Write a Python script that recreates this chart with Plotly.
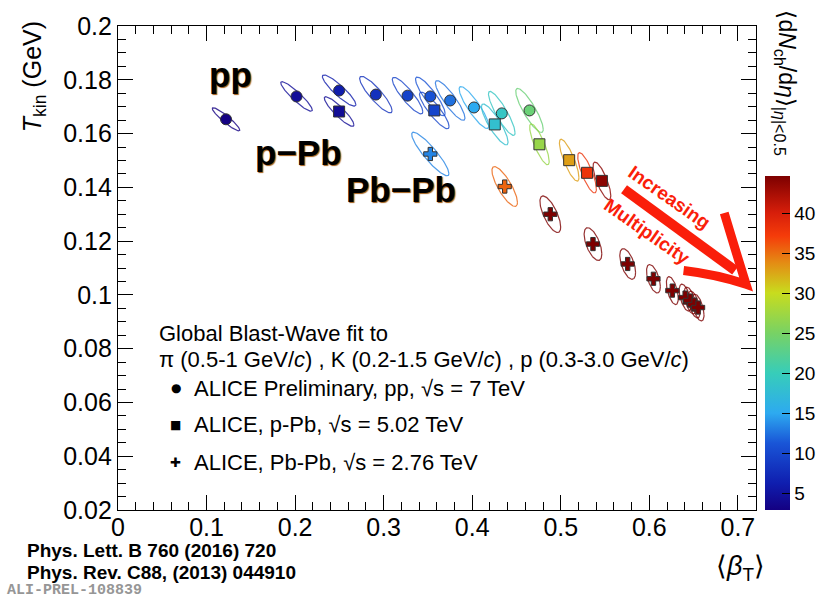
import numpy as np
import plotly.graph_objects as go
from plotly.colors import sample_colorscale

# ---------------- data ----------------
# pp 7 TeV (ALICE Preliminary) - circles
pp_beta = [0.122, 0.2016, 0.2497, 0.2912, 0.327, 0.3527, 0.3751, 0.402, 0.4334, 0.4647]
pp_T = [0.1653, 0.1738, 0.1760, 0.1745, 0.1741, 0.1738, 0.1723, 0.1697, 0.1675, 0.1686]
pp_mult = [3.0, 4.5, 6.0, 8.0, 9.5, 11.0, 12.5, 15.0, 19.0, 24.0]
pp_sbeta = [0.0155, 0.0178, 0.0189, 0.0183, 0.0172, 0.0167, 0.0167, 0.0167, 0.0150, 0.0155]
pp_sT = [0.0043, 0.0055, 0.0058, 0.0068, 0.0068, 0.0072, 0.0074, 0.0078, 0.0082, 0.0082]
pp_rho = [-0.93, -0.92, -0.9, -0.88, -0.88, -0.88, -0.88, -0.88, -0.88, -0.86]

# p-Pb 5.02 TeV - squares
ppb_beta = [0.2497, 0.3572, 0.4255, 0.4759, 0.5095, 0.5297, 0.5465]
ppb_T = [0.1682, 0.1686, 0.1634, 0.1560, 0.1501, 0.1454, 0.1424]
ppb_mult = [4.4, 9.8, 18.0, 27.0, 33.0, 38.0, 44.0]
ppb_sbeta = [0.0167, 0.0167, 0.0150, 0.0110, 0.0110, 0.0105, 0.0100]
ppb_sT = [0.0055, 0.0068, 0.0076, 0.0076, 0.0078, 0.0075, 0.0070]
ppb_rho = [-0.9, -0.88, -0.86, -0.83, -0.82, -0.8, -0.78]

# Pb-Pb 2.76 TeV - crosses
pbpb_beta = [0.3527, 0.4367, 0.4882, 0.5364, 0.5756, 0.6047, 0.626, 0.6405, 0.6461, 0.6506, 0.6551]
pbpb_T = [0.1524, 0.1403, 0.1300, 0.1189, 0.1115, 0.1060, 0.1016, 0.0990, 0.0979, 0.0964, 0.0953]
pbpb_mult = [13.4, 35.5, 76.0, 149.0, 261.0, 426.0, 649.0, 966.0, 1294.0, 1450.0, 1601.0]
pbpb_sbeta = [0.0210, 0.0144, 0.0117, 0.0100, 0.0089, 0.0078, 0.0067, 0.0067, 0.0067, 0.0067, 0.0067]
pbpb_sT = [0.0081, 0.0074, 0.0068, 0.0061, 0.0057, 0.0053, 0.0052, 0.0050, 0.0050, 0.0050, 0.0050]
pbpb_rho = [-0.9, -0.8, -0.7, -0.6, -0.55, -0.55, -0.55, -0.55, -0.55, -0.55, -0.55]

x_ticks = [0, 0.1, 0.2, 0.3, 0.4, 0.5, 0.6, 0.7]
y_ticks = [0.02, 0.04, 0.06, 0.08, 0.1, 0.12, 0.14, 0.16, 0.18, 0.2]
cbar_ticks = [5, 10, 15, 20, 25, 30, 35, 40]
CMIN, CMAX = 2.9, 44.7

# ---------------- styling ----------------
W, H = 836, 598
ML, MR, MT, MB = 118, 75, 21, 88
FONT = "Liberation Sans, Arial, Helvetica, sans-serif"

rainbow = [
    [0.00, "rgb(20,0,130)"],
    [0.08, "rgb(15,30,175)"],
    [0.20, "rgb(25,85,215)"],
    [0.29, "rgb(45,170,240)"],
    [0.41, "rgb(55,205,185)"],
    [0.53, "rgb(120,210,100)"],
    [0.65, "rgb(200,220,30)"],
    [0.74, "rgb(228,140,20)"],
    [0.82, "rgb(245,60,10)"],
    [0.89, "rgb(215,30,10)"],
    [1.00, "rgb(125,0,0)"],
]


def color_of(v):
    f = min(max((v - CMIN) / (CMAX - CMIN), 0.0), 1.0)
    return sample_colorscale(rainbow, [f])[0]


def px(xp):
    return (xp - ML) / (W - ML - MR)


def py(yp):
    return (H - MB - yp) / (H - MT - MB)


fig = go.Figure()

t = np.linspace(0, 2 * np.pi, 120)


def add_ellipses(bx, ty, sb, st, rh, mult):
    for x0, y0, sx, sy, r, m in zip(bx, ty, sb, st, rh, mult):
        ex = x0 + sx * np.cos(t)
        ey = y0 + sy * (r * np.cos(t) + np.sqrt(1 - r * r) * np.sin(t))
        fig.add_trace(go.Scatter(x=ex, y=ey, mode="lines",
                                 line=dict(color=color_of(m), width=1.2),
                                 opacity=0.8, hoverinfo="skip", showlegend=False))


add_ellipses(pp_beta, pp_T, pp_sbeta, pp_sT, pp_rho, pp_mult)
add_ellipses(ppb_beta, ppb_T, ppb_sbeta, ppb_sT, ppb_rho, ppb_mult)
add_ellipses(pbpb_beta, pbpb_T, pbpb_sbeta, pbpb_sT, pbpb_rho, pbpb_mult)

mline = dict(color="rgb(50,50,50)", width=1)
fig.add_trace(go.Scatter(x=pp_beta, y=pp_T, mode="markers", showlegend=False,
                         marker=dict(symbol="circle", size=11, color=pp_mult,
                                     coloraxis="coloraxis", line=mline)))
fig.add_trace(go.Scatter(x=ppb_beta, y=ppb_T, mode="markers", showlegend=False,
                         marker=dict(symbol="square", size=11, color=ppb_mult,
                                     coloraxis="coloraxis", line=mline)))
fig.add_trace(go.Scatter(x=pbpb_beta, y=pbpb_T, mode="markers", showlegend=False,
                         marker=dict(symbol="cross", size=11, color=pbpb_mult,
                                     coloraxis="coloraxis", line=mline)))

ann = []
big = dict(family=FONT, size=35, color="black", weight="bold",
           shadow="1px 1px 1px rgb(160,90,20)")
ann.append(dict(text="pp", x=px(231), y=py(70), font=big))
ann.append(dict(text="p\u2212Pb", x=px(300), y=py(149), font=big))
ann.append(dict(text="Pb\u2212Pb", x=px(403), y=py(186), font=big))

lf = dict(family=FONT, size=22, color="black")
ann.append(dict(text="Global Blast-Wave fit to", x=px(157), y=py(332),
                xanchor="left", font=lf))
ann.append(dict(text="\u03c0 (0.5-1 GeV/<i>c</i>) , K (0.2-1.5 GeV/<i>c</i>) , p (0.3-3.0 GeV/<i>c</i>)",
                x=px(157), y=py(358), xanchor="left", font=lf))
entries = [("\u25cf", "ALICE Preliminary, pp, \u221as = 7 TeV", 387, 12),
           ("\u25a0", "ALICE, p-Pb, \u221as = 5.02 TeV", 424, 12),
           ("\u271a", "ALICE, Pb-Pb, \u221as = 2.76 TeV", 462, 13)]
for sym, txt, yy, ss in entries:
    ann.append(dict(text=sym, x=px(176), y=py(yy), font=dict(family="DejaVu Sans", size=ss, color="black")))
    ann.append(dict(text=txt, x=px(193), y=py(yy), xanchor="left", font=lf))

# axis titles
ann.append(dict(text="<i>T</i><sub>kin</sub> (GeV)", x=px(33), y=py(14), xanchor="center",
                yanchor="top", textangle=-90, font=dict(family=FONT, size=25, color="black")))
ann.append(dict(text="\u27e8<i>\u03b2</i><sub>T</sub>\u27e9", x=px(745), y=py(569),
                font=dict(family=FONT, size=27, color="black")))
ann.append(dict(text="\u27e8d<i>N</i><sub>ch</sub>/d<i>\u03b7</i>\u27e9<sub>|<i>\u03b7</i>|&lt;0.5</sub>",
                x=px(791), y=py(3), xanchor="center", yanchor="top", textangle=90,
                font=dict(family=FONT, size=23, color="black")))

# references
rf = dict(family="Liberation Sans Narrow, Liberation Sans, Arial", size=19, color="black", weight="bold")
ann.append(dict(text="Phys. Lett. B 760 (2016) 720", x=px(24), y=py(551), xanchor="left", font=rf))
ann.append(dict(text="Phys. Rev. C88, (2013) 044910", x=px(24), y=py(573), xanchor="left", font=rf))
ann.append(dict(text="ALI-PREL-108839", x=px(4), y=py(591), xanchor="left",
                font=dict(family="Liberation Mono, DejaVu Sans Mono", size=15, color="rgb(150,150,150)", weight="bold")))

# arrow text
af = dict(family=FONT, size=19, color="rgb(250,30,10)", weight="bold")
ann.append(dict(text="Increasing", x=px(674), y=py(194), textangle=35, font=af))
ann.append(dict(text="Multiplicity", x=px(651), y=py(229), textangle=35, font=af))

for a in ann:
    a.setdefault("xref", "paper")
    a.setdefault("yref", "paper")
    a.setdefault("xanchor", "center")
    a.setdefault("yanchor", "middle")
    a.setdefault("showarrow", False)

red = "rgb(250,30,10)"
shapes = [
    dict(type="path", xref="paper", yref="paper",
         path=f"M {px(628)} {py(186)} L {px(740)} {py(268)}",
         line=dict(color=red, width=10)),
    dict(type="path", xref="paper", yref="paper",
         path=f"M {px(729)} {py(210)} Q {px(741)} {py(250)} {px(751)} {py(282)} "
              f"Q {px(722)} {py(272)} {px(688)} {py(268)}",
         line=dict(color=red, width=9)),
]

fig.update_layout(
    width=W, height=H,
    margin=dict(l=ML, r=MR, t=MT, b=MB, pad=0),
    paper_bgcolor="white", plot_bgcolor="white",
    font=dict(family=FONT, color="black"),
    annotations=ann, shapes=shapes,
    showlegend=False,
    coloraxis=dict(
        colorscale=rainbow, cmin=CMIN, cmax=CMAX,
        colorbar=dict(x=px(770), xanchor="left", y=0, yanchor="bottom",
                      len=(H - MB - 173) / (H - MT - MB), lenmode="fraction",
                      thickness=25, thicknessmode="pixels", outlinewidth=0,
                      ticks="inside", ticklen=8, tickcolor="black", tickwidth=1.2,
                      tickvals=cbar_ticks, tickfont=dict(family=FONT, size=19),
                      xpad=0, ypad=0),
    ),
    xaxis=dict(range=[0, 0.7205], tickvals=x_ticks, ticks="inside", ticklen=15,
               tickcolor="black", showline=True, linecolor="black", linewidth=1.2,
               mirror="ticks", showgrid=False, zeroline=False, ticklabelstandoff=-5,
               tickfont=dict(family=FONT, size=25),
               minor=dict(dtick=0.02, tick0=0, ticks="inside", ticklen=8, tickcolor="black", showgrid=False)),
    yaxis=dict(range=[0.02, 0.2], tickvals=y_ticks, ticks="inside", ticklen=15,
               tickcolor="black", showline=True, linecolor="black", linewidth=1.2,
               mirror="ticks", showgrid=False, zeroline=False,
               tickfont=dict(family=FONT, size=25),
               minor=dict(dtick=0.005, tick0=0, ticks="inside", ticklen=8, tickcolor="black", showgrid=False)),
)

fig.write_html("out.html")
